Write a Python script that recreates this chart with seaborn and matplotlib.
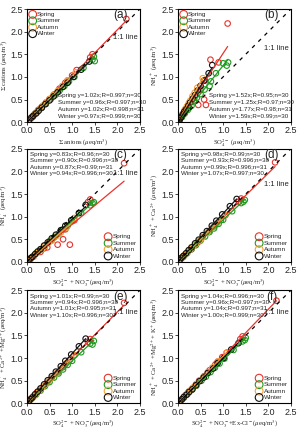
import numpy as np
import pandas as pd
import matplotlib
matplotlib.use("Agg")
import matplotlib.pyplot as plt
import seaborn as sns

seasons = ["Spring", "Summer", "Autumn", "Winter"]
colors = ["#e8332c", "#1e9a1e", "#f5a03c", "#111111"]

# --- Spring ---
spring_anions = [0.1, 0.18, 0.25, 0.33, 0.42, 0.5, 0.6, 0.72, 0.85, 0.9, 1.0, 1.1, 1.4, 1.45, 2.2]
spring_cations = [0.1, 0.19, 0.27, 0.34, 0.43, 0.51, 0.61, 0.74, 0.87, 0.92, 1.03, 1.15, 1.43, 1.5, 2.28]
spring_so4 = [0.04, 0.08, 0.14, 0.16, 0.22, 0.25, 0.36, 0.45, 0.58, 0.5, 0.62, 0.6, 0.9, 0.72, 1.1]
spring_nh4 = [0.06, 0.12, 0.2, 0.22, 0.3, 0.32, 0.48, 0.38, 0.5, 0.72, 0.38, 0.92, 1.32, 1.38, 2.18]
spring_sn = [0.08, 0.15, 0.22, 0.3, 0.38, 0.45, 0.55, 0.68, 0.8, 0.85, 0.95, 1.05, 1.35, 1.4, 2.15]
spring_nh4ca = [0.08, 0.15, 0.22, 0.28, 0.37, 0.44, 0.55, 0.66, 0.78, 0.83, 0.92, 1.03, 1.33, 1.4, 2.2]
spring_nh4camg = [0.09, 0.16, 0.24, 0.3, 0.38, 0.46, 0.56, 0.68, 0.8, 0.86, 0.96, 1.06, 1.36, 1.42, 2.22]
spring_snc = [0.1, 0.17, 0.24, 0.32, 0.4, 0.47, 0.58, 0.7, 0.83, 0.88, 0.98, 1.08, 1.38, 1.43, 2.18]
spring_nh4camgk = [0.1, 0.18, 0.26, 0.33, 0.42, 0.5, 0.6, 0.73, 0.86, 0.92, 1.02, 1.12, 1.42, 1.48, 2.27]

# --- Summer ---
summer_anions = [0.06, 0.13, 0.22, 0.32, 0.42, 0.53, 0.63, 0.73, 0.83, 0.93, 1.05, 1.25, 1.45, 1.5, 1.48]
summer_cations = [0.06, 0.12, 0.21, 0.31, 0.4, 0.51, 0.6, 0.71, 0.8, 0.9, 1.0, 1.2, 1.38, 1.35, 1.45]
summer_so4 = [0.04, 0.09, 0.15, 0.22, 0.3, 0.36, 0.42, 0.5, 0.59, 0.7, 0.73, 0.84, 1.08, 1.0, 1.11]
summer_nh4 = [0.05, 0.11, 0.19, 0.27, 0.36, 0.46, 0.54, 0.62, 0.72, 0.8, 0.9, 1.08, 1.25, 1.3, 1.32]
summer_sn = [0.05, 0.12, 0.2, 0.3, 0.4, 0.5, 0.6, 0.7, 0.8, 0.9, 1.0, 1.2, 1.4, 1.45, 1.48]
summer_nh4ca = [0.05, 0.11, 0.19, 0.28, 0.37, 0.47, 0.56, 0.66, 0.74, 0.84, 0.93, 1.12, 1.3, 1.33, 1.37]
summer_nh4camg = [0.05, 0.12, 0.19, 0.28, 0.38, 0.47, 0.57, 0.66, 0.75, 0.85, 0.94, 1.13, 1.32, 1.3, 1.38]
summer_snc = [0.06, 0.13, 0.21, 0.31, 0.41, 0.52, 0.62, 0.72, 0.82, 0.92, 1.03, 1.23, 1.43, 1.48, 1.5]
summer_nh4camgk = [0.06, 0.12, 0.2, 0.3, 0.39, 0.5, 0.59, 0.69, 0.79, 0.88, 0.99, 1.18, 1.37, 1.4, 1.45]

# --- Autumn ---
autumn_anions = [0.04, 0.08, 0.12, 0.16, 0.2, 0.25, 0.3, 0.36, 0.43, 0.5, 0.58, 0.68, 0.78, 0.9, 1.08]
autumn_cations = [0.04, 0.08, 0.12, 0.16, 0.21, 0.26, 0.31, 0.37, 0.44, 0.51, 0.59, 0.69, 0.8, 0.92, 1.1]
autumn_so4 = [0.02, 0.03, 0.05, 0.07, 0.09, 0.11, 0.14, 0.16, 0.2, 0.24, 0.27, 0.32, 0.37, 0.43, 0.55]
autumn_nh4 = [0.03, 0.05, 0.09, 0.12, 0.16, 0.19, 0.25, 0.29, 0.35, 0.42, 0.47, 0.57, 0.65, 0.76, 0.97]
autumn_sn = [0.03, 0.06, 0.1, 0.14, 0.18, 0.22, 0.28, 0.34, 0.4, 0.48, 0.55, 0.65, 0.75, 0.88, 1.05]
autumn_nh4ca = [0.03, 0.06, 0.1, 0.14, 0.18, 0.22, 0.28, 0.34, 0.4, 0.47, 0.54, 0.64, 0.75, 0.87, 1.04]
autumn_nh4camg = [0.03, 0.06, 0.1, 0.14, 0.18, 0.22, 0.28, 0.35, 0.41, 0.49, 0.56, 0.66, 0.76, 0.89, 1.06]
autumn_snc = [0.04, 0.07, 0.11, 0.15, 0.19, 0.23, 0.29, 0.35, 0.41, 0.49, 0.56, 0.66, 0.76, 0.89, 1.07]
autumn_nh4camgk = [0.04, 0.07, 0.11, 0.16, 0.2, 0.24, 0.3, 0.36, 0.43, 0.51, 0.58, 0.69, 0.79, 0.93, 1.11]

# --- Winter ---
winter_anions = [0.05, 0.1, 0.14, 0.2, 0.26, 0.33, 0.41, 0.5, 0.59, 0.68, 0.8, 0.9, 1.03, 1.2, 1.38]
winter_cations = [0.05, 0.1, 0.14, 0.19, 0.25, 0.32, 0.4, 0.48, 0.57, 0.66, 0.78, 0.87, 1.0, 1.16, 1.34]
winter_so4 = [0.03, 0.05, 0.07, 0.11, 0.14, 0.18, 0.23, 0.27, 0.33, 0.38, 0.44, 0.5, 0.58, 0.68, 0.76]
winter_nh4 = [0.04, 0.08, 0.11, 0.17, 0.23, 0.28, 0.36, 0.43, 0.52, 0.6, 0.7, 0.8, 0.92, 1.08, 1.26]
winter_sn = [0.04, 0.08, 0.12, 0.18, 0.24, 0.3, 0.38, 0.46, 0.55, 0.64, 0.75, 0.85, 0.98, 1.15, 1.3]
winter_nh4ca = [0.04, 0.09, 0.13, 0.19, 0.26, 0.32, 0.41, 0.49, 0.59, 0.68, 0.8, 0.91, 1.05, 1.23, 1.39]
winter_nh4camg = [0.04, 0.09, 0.13, 0.2, 0.26, 0.33, 0.42, 0.51, 0.6, 0.7, 0.82, 0.94, 1.08, 1.26, 1.43]
winter_snc = [0.05, 0.09, 0.13, 0.19, 0.25, 0.32, 0.4, 0.48, 0.57, 0.66, 0.78, 0.88, 1.01, 1.18, 1.34]
winter_nh4camgk = [0.05, 0.09, 0.14, 0.19, 0.25, 0.31, 0.4, 0.49, 0.57, 0.67, 0.77, 0.89, 1.0, 1.19, 1.33]

# fitted slopes (y = kx) read from the annotations
slopes_a = [1.02, 0.96, 1.02, 0.97]
slopes_b = [1.52, 1.25, 1.77, 1.59]
slopes_c = [0.83, 0.90, 0.87, 0.94]
slopes_d = [0.98, 0.93, 0.99, 1.07]
slopes_e = [1.01, 0.94, 1.01, 1.10]
slopes_f = [1.04, 0.96, 1.04, 1.00]

stats_a = ["R=0.997;n=30", "R=0.997;n=30", "R=0.998;n=31", "R=0.999;n=30"]
stats_b = ["R=0.95;n=30", "R=0.97;n=30", "R=0.98;n=31", "R=0.99;n=30"]
stats_c = ["R=0.96;n=30", "R=0.996;n=30", "R=0.99;n=31", "R=0.996;n=30"]
stats_d = ["R=0.99;n=30", "R=0.996;n=30", "R=0.996;n=31", "R=0.997;n=30"]
stats_e = ["R=0.99;n=30", "R=0.996;n=30", "R=0.995;n=31", "R=0.996;n=30"]
stats_f = ["R=0.996;n=30", "R=0.997;n=30", "R=0.997;n=31", "R=0.999;n=30"]

xlabels = [r"$\Sigma$ anions ($\mu$eq/m$^3$)",
           r"SO$_4^{2-}$ ($\mu$eq/m$^3$)",
           r"SO$_4^{2-}$ + NO$_3^-$($\mu$eq/m$^3$)",
           r"SO$_4^{2-}$ + NO$_3^-$($\mu$eq/m$^3$)",
           r"SO$_4^{2-}$ + NO$_3^-$($\mu$eq/m$^3$)",
           r"SO$_4^{2-}$ + NO$_3^-$+Ex-Cl$^-$($\mu$eq/m$^3$)"]
ylabels = [r"$\Sigma$ cations ($\mu$eq/m$^3$)",
           r"NH$_4^+$ ($\mu$eq/m$^3$)",
           r"NH$_4^+$ ($\mu$eq/m$^3$)",
           r"NH$_4^+$ + Ca$^{2+}$ ($\mu$eq/m$^3$)",
           r"NH$_4^+$ + Ca$^{2+}$ +Mg$^{2+}$($\mu$eq/m$^3$)",
           r"NH$_4^+$ + Ca$^{2+}$ +Mg$^{2+}$+ K$^+$($\mu$eq/m$^3$)"]
tags = ["(a)", "(b)", "(c)", "(d)", "(e)", "(f)"]

panels = [
    ([spring_anions, summer_anions, autumn_anions, winter_anions],
     [spring_cations, summer_cations, autumn_cations, winter_cations], slopes_a, stats_a),
    ([spring_so4, summer_so4, autumn_so4, winter_so4],
     [spring_nh4, summer_nh4, autumn_nh4, winter_nh4], slopes_b, stats_b),
    ([spring_sn, summer_sn, autumn_sn, winter_sn],
     [spring_nh4, summer_nh4, autumn_nh4, winter_nh4], slopes_c, stats_c),
    ([spring_sn, summer_sn, autumn_sn, winter_sn],
     [spring_nh4ca, summer_nh4ca, autumn_nh4ca, winter_nh4ca], slopes_d, stats_d),
    ([spring_sn, summer_sn, autumn_sn, winter_sn],
     [spring_nh4camg, summer_nh4camg, autumn_nh4camg, winter_nh4camg], slopes_e, stats_e),
    ([spring_snc, summer_snc, autumn_snc, winter_snc],
     [spring_nh4camgk, summer_nh4camgk, autumn_nh4camgk, winter_nh4camgk], slopes_f, stats_f),
]

sns.set_theme(style="ticks")
plt.rcParams["font.family"] = ["Liberation Sans", "DejaVu Sans"]
plt.rcParams["mathtext.fontset"] = "stix"

fig = plt.figure(figsize=(2.99, 4.30), dpi=100)
lefts = [0.090, 0.595]
bottoms = [0.716, 0.391, 0.062]
w, h = 0.378, 0.263

for i, (xs, ys, slopes, stats) in enumerate(panels):
    ax = fig.add_axes([lefts[i % 2], bottoms[i // 2], w, h])
    for s, c, x, y, k in zip(seasons, colors, xs, ys, slopes):
        df = pd.DataFrame({"x": x, "y": y})
        sns.scatterplot(data=df, x="x", y="y", ax=ax, marker="o", s=16,
                        facecolor="none", edgecolor=c, linewidth=0.8, label=s)
        xf = np.array([0, max(x)])
        ax.plot(xf, k * xf, color=c, lw=0.9)
    ax.plot([0, 2.5], [0, 2.5], color="black", lw=0.9, dashes=(3, 4))

    ax.set_xlim(0, 2.5)
    ax.set_ylim(0, 2.5)
    ax.set_xticks(np.arange(0, 2.51, 0.5))
    ax.set_yticks(np.arange(0, 2.51, 0.5))
    ax.tick_params(labelsize=6.5, length=2, width=0.6, pad=1)
    for sp in ax.spines.values():
        sp.set_linewidth(0.8)
        sp.set_color("black")
        sp.set_visible(True)
    ax.set_xlabel(xlabels[i], fontsize=4.8, family="Liberation Serif", labelpad=2)
    ax.set_ylabel(ylabels[i], fontsize=4.8, family="Liberation Serif", labelpad=0.5)

    ax.text(2.07, 2.36, tags[i], fontsize=8.5, ha="center", va="center")
    lab_y = {0: 1.86, 1: 1.63, 2: 1.95, 3: 1.72, 4: 2.0, 5: 2.0}[i]
    ax.text(1.9, lab_y, "1:1 line", fontsize=5.5, va="center")

    lines = [f"{s} y={k:.2f}x;{st}" for s, k, st in zip(seasons, slopes, stats)]
    if i < 2:
        for j, t in enumerate(lines):
            ax.text(0.68, 0.58 - j * 0.15, t, fontsize=4.5, va="center")
        ax.legend(loc="upper left", fontsize=4.6, frameon=False, handletextpad=0.2,
                  labelspacing=0.15, borderaxespad=0.2, markerscale=1.4,
                  handlelength=1.0, borderpad=0.2)
    else:
        for j, t in enumerate(lines):
            ax.text(0.07, 2.37 - j * 0.14, t, fontsize=4.5, va="center")
        ax.legend(loc="lower right", fontsize=4.6, frameon=False, handletextpad=0.2,
                  labelspacing=0.15, borderaxespad=0.3, markerscale=1.4,
                  handlelength=1.0, borderpad=0.2)

fig.savefig("out.png", dpi=100)
